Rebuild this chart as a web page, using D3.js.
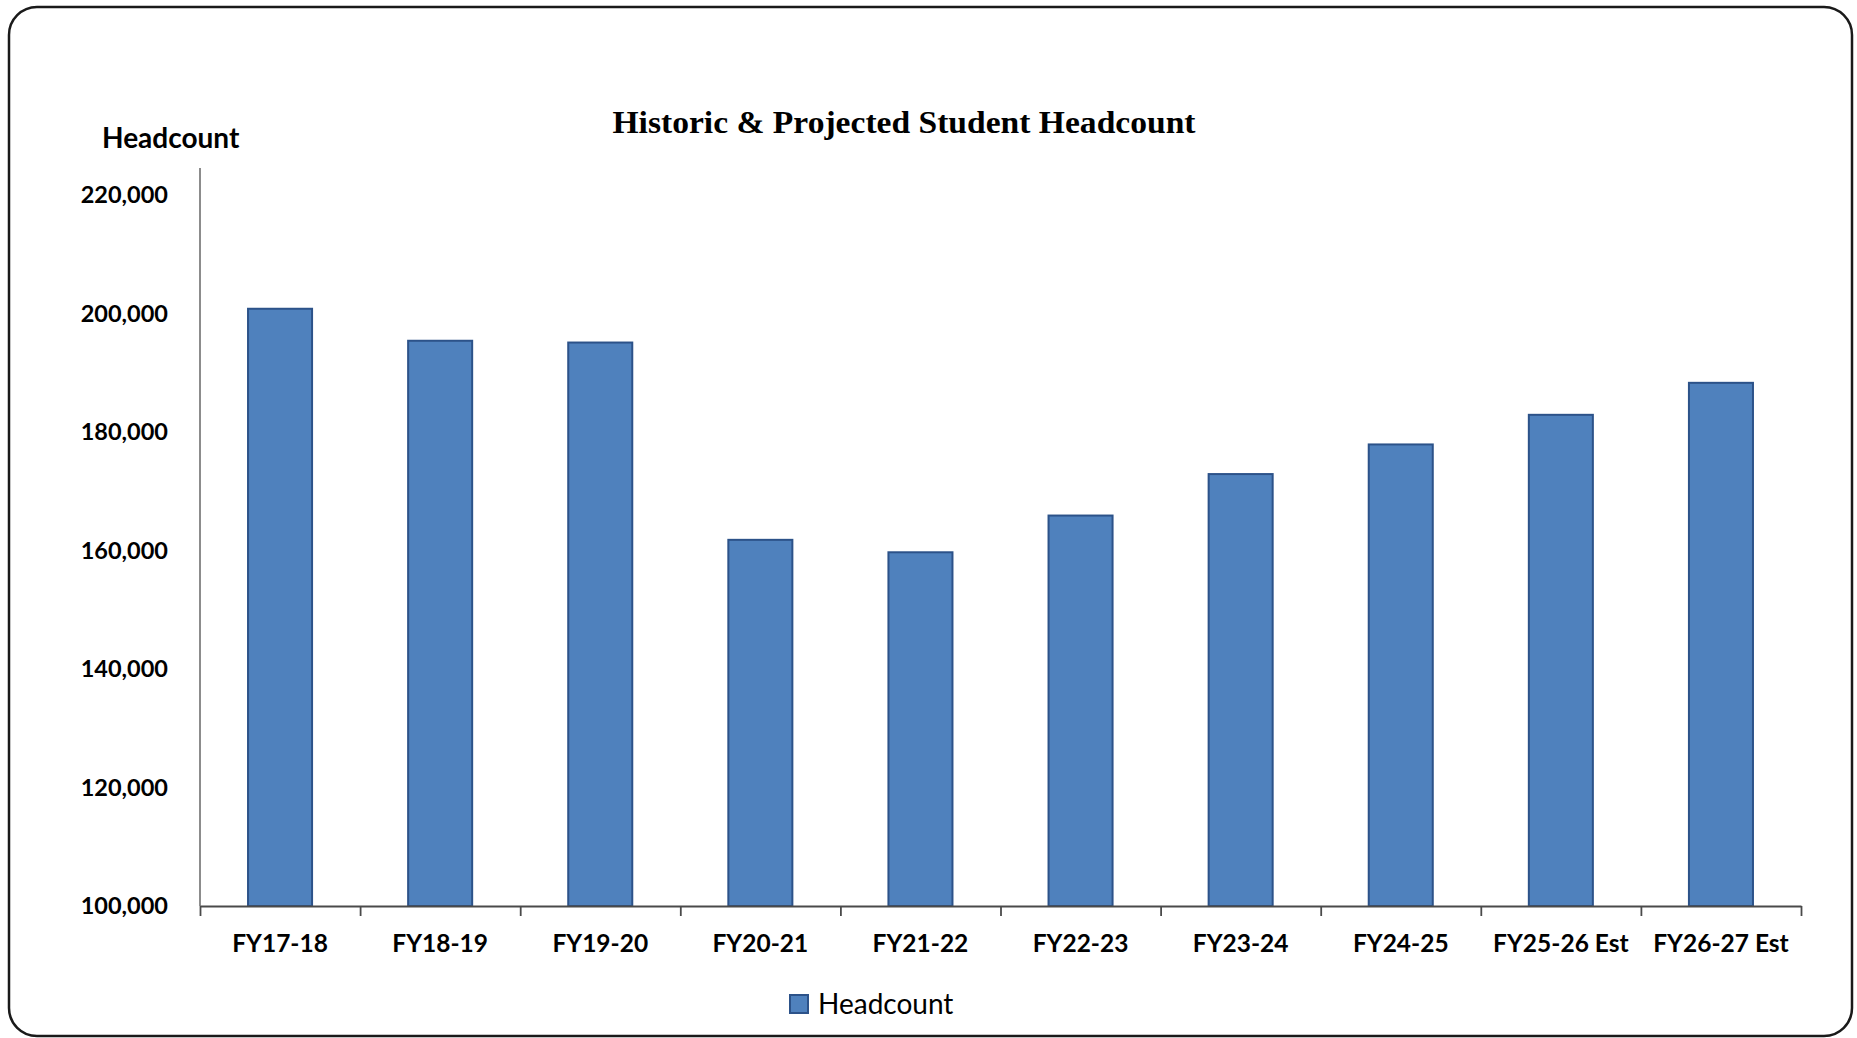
<!DOCTYPE html>
<html>
<head>
<meta charset="utf-8">
<script src="https://cdn.jsdelivr.net/npm/d3@7"></script>
<style>
  body { margin: 0; background: #fff; }
  svg { display: block; }
</style>
</head>
<body>
<svg id="chart" width="1857" height="1038"></svg>
<script>
// headcount per fiscal year
var years = ["FY17-18", "FY18-19", "FY19-20", "FY20-21", "FY21-22",
             "FY22-23", "FY23-24", "FY24-25", "FY25-26 Est", "FY26-27 Est"];
var headcount = [200800, 195400, 195100, 161800, 159700,
                 165900, 172900, 177900, 182900, 188300];
var yTicks = [100000, 120000, 140000, 160000, 180000, 200000, 220000];

var svg = d3.select("#chart");
// plot edges (note: "top" is taken by window.top, so use other names)
var plotLeft = 200, plotRight = 1801, plotBottom = 906, plotTop = 195;

// outer frame
svg.append("rect")
  .attr("x", 9).attr("y", 7)
  .attr("width", 1843).attr("height", 1029)
  .attr("rx", 28).attr("ry", 28)
  .attr("fill", "#fff")
  .attr("stroke", "#1a1a1a")
  .attr("stroke-width", 2.5);

var x = d3.scaleBand()
  .domain(years)
  .range([plotLeft, plotRight])
  .paddingInner(0.6)
  .paddingOuter(0.3);

var y = d3.scaleLinear()
  .domain([100000, 220000])
  .range([plotBottom, plotTop]);

// title
svg.append("text")
  .attr("x", 904).attr("y", 133)
  .attr("text-anchor", "middle")
  .attr("textLength", 583)
  .attr("lengthAdjust", "spacingAndGlyphs")
  .style("font-family", "'Liberation Serif', 'DejaVu Serif', serif")
  .style("font-weight", "bold")
  .style("font-size", "32px")
  .text("Historic & Projected Student Headcount");

// y axis title
svg.append("text")
  .attr("x", 102).attr("y", 148)
  .style("font-family", "Lato, 'Open Sans', sans-serif")
  .style("font-weight", "bold")
  .style("font-size", "28px")
  .text("Headcount");

// y axis (labels only, line drawn separately)
var yAxis = svg.append("g")
  .attr("transform", "translate(" + plotLeft + ",0)")
  .call(d3.axisLeft(y).tickValues(yTicks).tickSize(0).tickPadding(32)
        .tickFormat(d3.format(",")));
yAxis.select(".domain").remove();
yAxis.selectAll("text")
  .style("font-family", "Lato, 'Open Sans', sans-serif")
  .style("font-weight", "bold")
  .style("font-size", "23.5px")
  .attr("fill", "#000");

svg.append("line")
  .attr("x1", plotLeft).attr("x2", plotLeft)
  .attr("y1", 168).attr("y2", plotBottom)
  .attr("stroke", "#8c8c8c")
  .attr("stroke-width", 2);

// bars
svg.selectAll(".bar")
  .data(headcount)
  .enter().append("rect")
  .attr("class", "bar")
  .attr("x", function(d, i) { return x(years[i]); })
  .attr("y", function(d) { return y(d); })
  .attr("width", x.bandwidth())
  .attr("height", function(d) { return plotBottom - y(d); })
  .attr("fill", "#4f81bd")
  .attr("stroke", "#2c5289")
  .attr("stroke-width", 2);

// x axis: boundary ticks
var xb = d3.scaleLinear().domain([0, years.length]).range([plotLeft, plotRight]);
var xTickAxis = svg.append("g")
  .attr("transform", "translate(0," + plotBottom + ")")
  .call(d3.axisBottom(xb).tickValues(d3.range(years.length + 1))
        .tickSize(10).tickFormat("").tickSizeOuter(0));
xTickAxis.selectAll("line, path")
  .attr("stroke", "#4a4a4a")
  .attr("stroke-width", 1.8);

// x axis: category labels
var xLab = svg.append("g")
  .attr("transform", "translate(0," + plotBottom + ")")
  .call(d3.axisBottom(x).tickSize(0).tickPadding(29));
xLab.select(".domain").remove();
xLab.selectAll("text")
  .style("font-family", "Lato, 'Open Sans', sans-serif")
  .style("font-weight", "bold")
  .style("font-size", "24.5px")
  .attr("fill", "#000");

// legend
var legend = svg.append("g").attr("transform", "translate(790,995)");
legend.append("rect")
  .attr("width", 18).attr("height", 18)
  .attr("fill", "#4f81bd")
  .attr("stroke", "#2c5289")
  .attr("stroke-width", 2);
legend.append("text")
  .attr("x", 28).attr("y", 19)
  .style("font-family", "Lato, 'Open Sans', sans-serif")
  .style("font-size", "28px")
  .text("Headcount");
</script>
</body>
</html>
